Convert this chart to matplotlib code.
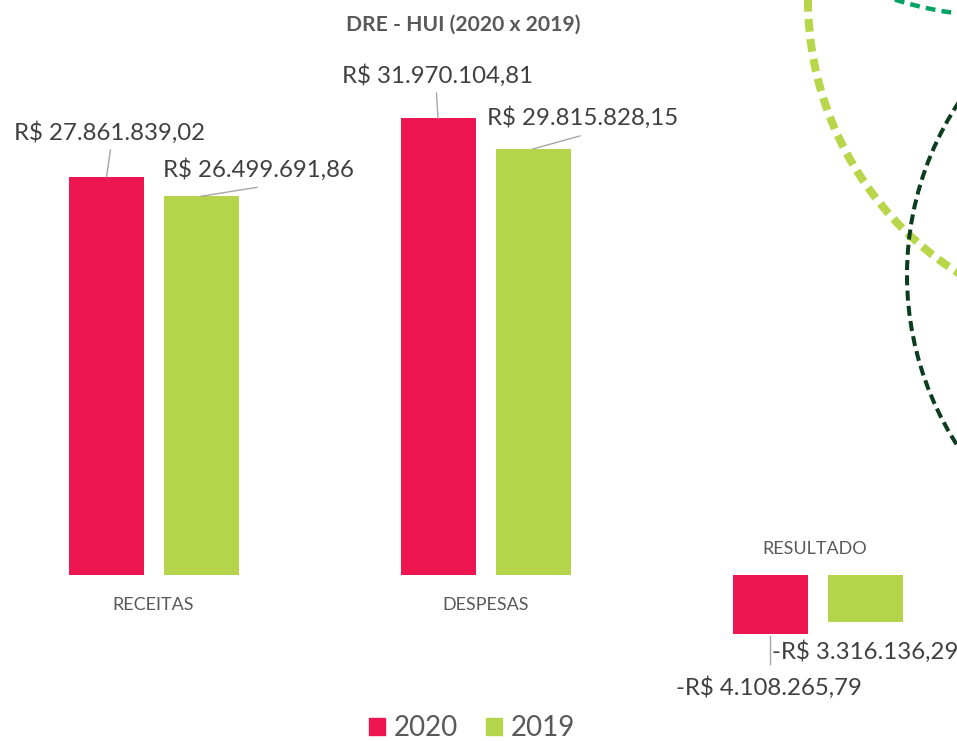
import matplotlib
matplotlib.use("Agg")
import matplotlib.pyplot as plt
from matplotlib.patches import Circle, Patch

plt.rcParams['font.family'] = ['Lato', 'DejaVu Sans']

title = 'DRE - HUI (2020 x 2019)'
categorias = ['RECEITAS', 'DESPESAS', 'RESULTADO']
anos = ['2020', '2019']
v2020 = [27861839.02, 31970104.81, -4108265.79]
v2019 = [26499691.86, 29815828.15, -3316136.29]
cores = ['#EE1651', '#B4D44B']


def fmt(v):
    s = '{:,.2f}'.format(abs(v)).replace(',', 'X').replace('.', ',').replace('X', '.')
    return ('-R$ ' if v < 0 else 'R$ ') + s


# pixel scale of the layout
PX_X = 332.0          # px per category
PX_Y = 14.29          # px per million
W, H = 957, 741
X0, Y0 = 153.5, 575   # first group centre / baseline in px

fig = plt.figure(figsize=(W / 100, H / 100), dpi=100)
ax = fig.add_axes([0, 0, 1, 1])
ax.set_xlim(-X0 / PX_X, (W - X0) / PX_X)
ax.set_ylim(-(H - Y0) / PX_Y, Y0 / PX_Y)
ax.axis('off')

bw = 75 / PX_X
off = 47.5 / PX_X
xs = list(range(len(categorias)))
series = [v2020, v2019]
for k, vals in enumerate(series):
    pos = [x + (-off if k == 0 else off) for x in xs]
    ax.bar(pos, [v / 1e6 for v in vals], width=bw, color=cores[k], label=anos[k])

# label placement (px offsets from bar end): text (dx, dy), leader end (lx, ly)
lab_off = {
    (0, 0): (-91.5, 37, (0.5, 0), (4.5, 27)),
    (0, 1): (-38, 19, (0, 0), (56, 9)),
    (1, 0): (-95.5, 35, (0, 0), (-1.5, 25)),
    (1, 1): (-46, 24, (0, 0), (47, 13)),
    (2, 0): (-94, -61, (0, -2), (0, -30)),
    (2, 1): (-93, -36, None, None),
}
for k, vals in enumerate(series):
    for i, v in enumerate(vals):
        xc = xs[i] + (-off if k == 0 else off)
        yv = v / 1e6
        dx, dy, p0, p1 = lab_off[(i, k)]
        ax.text(xc + dx / PX_X, yv + dy / PX_Y, fmt(v), ha='left', va='baseline',
                fontsize=17.3, color='#404040')
        if p0 is not None:
            ax.plot([xc + p0[0] / PX_X, xc + p1[0] / PX_X],
                    [yv + p0[1] / PX_Y, yv + p1[1] / PX_Y],
                    color='#A6A6A6', lw=1)

# category labels
for i, c in enumerate(categorias):
    neg = min(v2020[i], v2019[i]) < 0
    ty = 26 / PX_Y if neg else -30 / PX_Y
    ax.text(xs[i] - (3 / PX_X if neg else 0), ty, c, ha='center', va='center',
            fontsize=13, color='#595959')

fig.text(463 / W, 1 - 25 / H, title, ha='center', va='center', fontsize=15.2,
         fontweight='bold', color='#595959')

handles = [Patch(color=cores[0]), Patch(color=cores[1])]
fig.legend(handles, anos, loc='lower center', bbox_to_anchor=(0.493, -0.034), ncol=2,
           frameon=False, fontsize=20, handlelength=0.6, handleheight=0.6,
           handletextpad=0.3, columnspacing=1.0, labelcolor='#595959')

# decorative dashed circles
deco = fig.add_axes([0, 0, 1, 1], zorder=-1)
deco.set_xlim(0, W)
deco.set_ylim(H, 0)
deco.axis('off')
deco.add_patch(Circle((1131, 0), 323, fill=False, ec='#B8D64A', lw=5.8,
                      ls=(0, (1.6, 0.9))))
deco.add_patch(Circle((1221, 275), 314, fill=False, ec='#0B3D1E', lw=2.9,
                      ls=(0, (2.5, 1.3))))
deco.add_patch(Circle((1000, -330), 346, fill=False, ec='#00A261', lw=3.2,
                      ls=(0, (2.2, 1.4))))

fig.savefig('out.png', dpi=100)
